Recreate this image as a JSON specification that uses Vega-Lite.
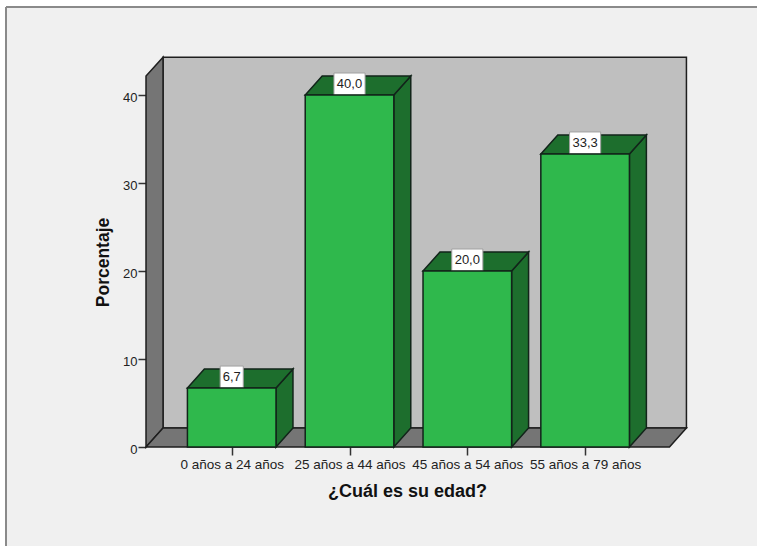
{
  "$schema": "https://vega.github.io/schema/vega-lite/v6.json",
  "width": 751,
  "height": 539,
  "padding": {"left": 6, "top": 7, "right": 0, "bottom": 0},
  "autosize": {"type": "none"},
  "background": "#FFFFFF",
  "config": {
    "view": {"fill": "#F0F0F0", "stroke": null},
    "font": "Liberation Sans"
  },
  "resolve": {"axis": {"x": "independent", "y": "independent"}},
  "datasets": {
    "edades": [
      {"edad": "0 años a 24 años", "pos": 0, "porcentaje": 6.7},
      {"edad": "25 años a 44 años", "pos": 1, "porcentaje": 40.0},
      {"edad": "45 años a 54 años", "pos": 2, "porcentaje": 20.0},
      {"edad": "55 años a 79 años", "pos": 3, "porcentaje": 33.3}
    ],
    "caja": [
      {"plano": "frente", "xa": -0.7275, "xb": 3.716, "base": 0, "techo": 42.16},
      {"plano": "fondo", "xa": -0.583, "xb": 3.86, "base": 2.16, "techo": 44.3}
    ]
  },
  "layer": [
    {
      "description": "Back wall of the 3D box; also carries both axes",
      "data": {"name": "caja"},
      "transform": [{"filter": "datum.plano === 'fondo'"}],
      "mark": {"type": "rect", "fill": "#BFBFBF", "stroke": "#1E1E1E", "strokeWidth": 1.5},
      "encoding": {
        "x": {
          "field": "xa",
          "type": "quantitative",
          "scale": {"domain": [-1.916, 4.459], "nice": false, "zero": false},
          "axis": {
            "title": "¿Cuál es su edad?",
            "orient": "bottom",
            "offset": -99,
            "values": [0, 1, 2, 3],
            "labelExpr": "['0 años a 24 años', '25 años a 44 años', '45 años a 54 años', '55 años a 79 años'][datum.value]",
            "grid": false,
            "domain": false,
            "tickSize": 8,
            "tickColor": "#333333",
            "tickWidth": 1.5,
            "labelFontSize": 13.5,
            "labelColor": "#222222",
            "labelPadding": 2,
            "labelFlush": false,
            "labelOverlap": false,
            "titleFontSize": 18,
            "titleFontWeight": "bold",
            "titleColor": "#111111",
            "titleX": 401,
            "titleY": 44,
            "titleBaseline": "middle"
          }
        },
        "x2": {"field": "xb"},
        "y": {
          "field": "base",
          "type": "quantitative",
          "scale": {"domain": [-11.25, 50], "nice": false, "zero": false},
          "axis": {
            "title": "Porcentaje",
            "orient": "left",
            "offset": -140,
            "values": [0, 10, 20, 30, 40],
            "grid": false,
            "domain": false,
            "tickSize": 8,
            "tickColor": "#333333",
            "tickWidth": 1.5,
            "labelFontSize": 13,
            "labelColor": "#222222",
            "labelPadding": 1,
            "labelOffset": 2,
            "labelFlush": false,
            "labelOverlap": false,
            "titleFontSize": 17.5,
            "titleFontWeight": "bold",
            "titleColor": "#111111",
            "titleX": -43,
            "titleY": 255,
            "titleBaseline": "middle"
          }
        },
        "y2": {"field": "techo"}
      }
    },
    {
      "description": "Left wall",
      "data": {"name": "caja"},
      "mark": {"type": "area", "orient": "vertical", "fill": "#757575", "stroke": "#1E1E1E", "strokeWidth": 1.5},
      "encoding": {
        "x": {"field": "xa", "type": "quantitative", "axis": null},
        "y": {"field": "base", "type": "quantitative", "axis": null, "stack": null},
        "y2": {"field": "techo"}
      }
    },
    {
      "description": "Floor",
      "data": {"name": "caja"},
      "mark": {"type": "area", "orient": "horizontal", "fill": "#757575", "stroke": "#1E1E1E", "strokeWidth": 1.5},
      "encoding": {
        "y": {"field": "base", "type": "quantitative", "axis": null},
        "x": {"field": "xa", "type": "quantitative", "axis": null, "stack": null},
        "x2": {"field": "xb"}
      }
    },
    {
      "description": "Outer frame, left and top edges",
      "data": {"values": [{}]},
      "mark": {"type": "rule", "stroke": "#8A8A8A", "strokeWidth": 2},
      "encoding": {"x": {"datum": -1.916, "type": "quantitative", "axis": null}}
    },
    {
      "data": {"values": [{}]},
      "mark": {"type": "rule", "stroke": "#8A8A8A", "strokeWidth": 2},
      "encoding": {"y": {"datum": 50, "type": "quantitative", "axis": null}}
    },
    {
      "description": "Right-hand face of each bar",
      "data": {"name": "edades"},
      "transform": [
        {"calculate": "[0, 1]", "as": "k"},
        {"flatten": ["k"]},
        {"calculate": "datum.pos + 0.376 + 0.144 * datum.k", "as": "xLado"},
        {"calculate": "2.16 * datum.k", "as": "yBase"},
        {"calculate": "datum.porcentaje + 2.16 * datum.k", "as": "yTope"}
      ],
      "mark": {"type": "area", "orient": "vertical", "fill": "#1D6E2D", "stroke": "#12241A", "strokeWidth": 1.5},
      "encoding": {
        "x": {"field": "xLado", "type": "quantitative", "axis": null},
        "y": {"field": "yBase", "type": "quantitative", "axis": null, "stack": null},
        "y2": {"field": "yTope"},
        "detail": {"field": "pos"}
      }
    },
    {
      "description": "Top face of each bar",
      "data": {"name": "edades"},
      "transform": [
        {"calculate": "[0, 1]", "as": "k"},
        {"flatten": ["k"]},
        {"calculate": "datum.pos - 0.376 + 0.144 * datum.k", "as": "xIzq"},
        {"calculate": "datum.pos + 0.376 + 0.144 * datum.k", "as": "xDer"},
        {"calculate": "datum.porcentaje + 2.16 * datum.k", "as": "yTope"}
      ],
      "mark": {"type": "area", "orient": "horizontal", "fill": "#1D6E2D", "stroke": "#12241A", "strokeWidth": 1.5},
      "encoding": {
        "y": {"field": "yTope", "type": "quantitative", "axis": null},
        "x": {"field": "xIzq", "type": "quantitative", "axis": null, "stack": null},
        "x2": {"field": "xDer"},
        "detail": {"field": "pos"}
      }
    },
    {
      "description": "White box behind each value label",
      "data": {"name": "edades"},
      "transform": [
        {"calculate": "datum.porcentaje < 10 ? 0.098 : 0.132", "as": "semi"},
        {"calculate": "datum.pos - datum.semi", "as": "xa"},
        {"calculate": "datum.pos + datum.semi", "as": "xb"},
        {"calculate": "datum.porcentaje + 2.5", "as": "yTope"}
      ],
      "mark": {"type": "rect", "fill": "#FFFFFF", "stroke": "#A0A0A0", "strokeWidth": 1},
      "encoding": {
        "x": {"field": "xa", "type": "quantitative", "axis": null},
        "x2": {"field": "xb"},
        "y": {"field": "porcentaje", "type": "quantitative", "axis": null},
        "y2": {"field": "yTope"}
      }
    },
    {
      "description": "Front face of each bar",
      "data": {"name": "edades"},
      "transform": [
        {"calculate": "datum.pos - 0.376", "as": "xa"},
        {"calculate": "datum.pos + 0.376", "as": "xb"},
        {"calculate": "0", "as": "cero"}
      ],
      "mark": {"type": "rect", "fill": "#2FB84C", "stroke": "#12241A", "strokeWidth": 1.5},
      "encoding": {
        "x": {"field": "xa", "type": "quantitative", "axis": null},
        "x2": {"field": "xb"},
        "y": {"field": "porcentaje", "type": "quantitative", "axis": null},
        "y2": {"field": "cero"}
      }
    },
    {
      "description": "Value labels with a decimal comma",
      "data": {"name": "edades"},
      "transform": [
        {"calculate": "replace(format(datum.porcentaje, '.1f'), '.', ',')", "as": "rotulo"},
        {"calculate": "datum.porcentaje + 1.25", "as": "yRotulo"}
      ],
      "mark": {"type": "text", "fontSize": 13, "color": "#222222", "baseline": "middle", "align": "center"},
      "encoding": {
        "x": {"field": "pos", "type": "quantitative", "axis": null},
        "y": {"field": "yRotulo", "type": "quantitative", "axis": null},
        "text": {"field": "rotulo", "type": "nominal"}
      }
    }
  ]
}
